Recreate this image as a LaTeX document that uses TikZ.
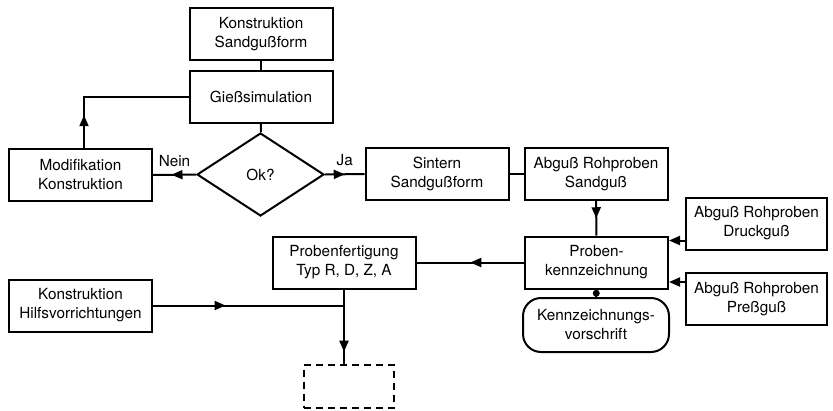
\documentclass[tikz,border=0pt]{standalone}
\usepackage{fontspec}
\setmainfont{TeX Gyre Heros}
\usetikzlibrary{shapes.geometric,arrows.meta,decorations.markings}
\tikzset{
	kasten/.style={draw, line width=2pt, minimum width=143pt, minimum height=52pt, align=center, inner sep=0pt, font=\fontsize{15.3}{19}\selectfont},
	raute/.style={draw, diamond, line width=2pt, minimum width=127pt, minimum height=83pt, inner sep=0pt, font=\fontsize{15.3}{19}\selectfont},
	rund/.style={kasten, rounded corners=18pt},
	leer/.style={draw, line width=2pt, dash pattern=on 7pt off 5pt, minimum width=90pt, minimum height=43pt},
	punkt/.style={circle, fill, inner sep=0pt, minimum size=7pt},
	pfeil/.style={postaction={decorate}, decoration={markings, mark=at position #1 with {\arrow{Triangle[length=11pt,width=9pt]}}}},
	pfeil/.default=0.5,
	spitze/.style={-{Triangle[length=11pt,width=9pt]}},
	beschr/.style={font=\fontsize{15.3}{19}\selectfont}
}
\begin{document}
\begin{tikzpicture}[x=1pt, y=-1pt, line width=2pt]
	\useasboundingbox (0,0) rectangle (833,410);
	\node[kasten] (ksand) at (261,34) {Konstruktion\\Sandgußform};
	\node[kasten] (giess) at (261,96.5) {Gießsimulation};
	\node[raute] (ok) at (260.5,174.5) {Ok?};
	\node[kasten] (modif) at (80.5,175) {Modifikation\\Konstruktion};
	\node[kasten] (sintern) at (437,174) {Sintern\\Sandgußform};
	\node[kasten] (sandguss) at (596,174) {Abguß Rohproben\\Sandguß};
	\node[kasten] (kennz) at (596.5,262.5) {Proben-\\kennzeichnung};
	\node[kasten, minimum width=141pt] (druck) at (756.5,223.5) {Abguß Rohproben\\Druckguß};
	\node[kasten, minimum width=141pt] (press) at (756.5,299) {Abguß Rohproben\\Preßguß};
	\node[rund, minimum width=146pt, minimum height=54pt] (vorschrift) at (596,325) {Kennzeichnungs-\\vorschrift};
	\node[kasten] (fertig) at (344,262.5) {Probenfertigung\\Typ R, D, Z, A};
	\node[kasten] (hilf) at (80.5,305.5) {Konstruktion\\Hilfsvorrichtungen};
	\node[leer] (ziel) at (348.5,386) {};

	% Schleife oben
	\draw (ksand) -- (giess);
	\draw (giess) -- (ok);
	\draw[pfeil=0.57] (ok.west) -- (modif.east) node[midway, above=4pt, beschr] (nein) {Nein};
	\draw[pfeil] (ok.east) -- (sintern.west) node[midway, above=4pt, beschr] (ja) {Ja};
	\draw[pfeil=0.21] ([xshift=3.5pt]modif.north) |- (giess.west);

	% Proben
	\draw (sintern) -- (sandguss);
	\draw[pfeil] (sandguss) -- (kennz);
	\draw[pfeil] (kennz) -- (fertig);
	\draw[spitze] ([yshift=10pt]druck.south west) -- ([yshift=10pt]druck.south west -| kennz.east);
	\draw[spitze] ([yshift=-10pt]press.north west) -- ([yshift=-10pt]press.north west -| kennz.east);
	\draw (kennz.south) -- (vorschrift.north) node[midway, punkt] (p) {};

	% Fertigung
	\coordinate (knoten) at (fertig.south |- hilf.east);
	\coordinate (ende) at (fertig.south |- ziel.north);
	\draw[pfeil=0.38] (hilf.east) -- (knoten);
	\draw[pfeil=0.84] (fertig.south) -- (ende);
\end{tikzpicture}
\end{document}
